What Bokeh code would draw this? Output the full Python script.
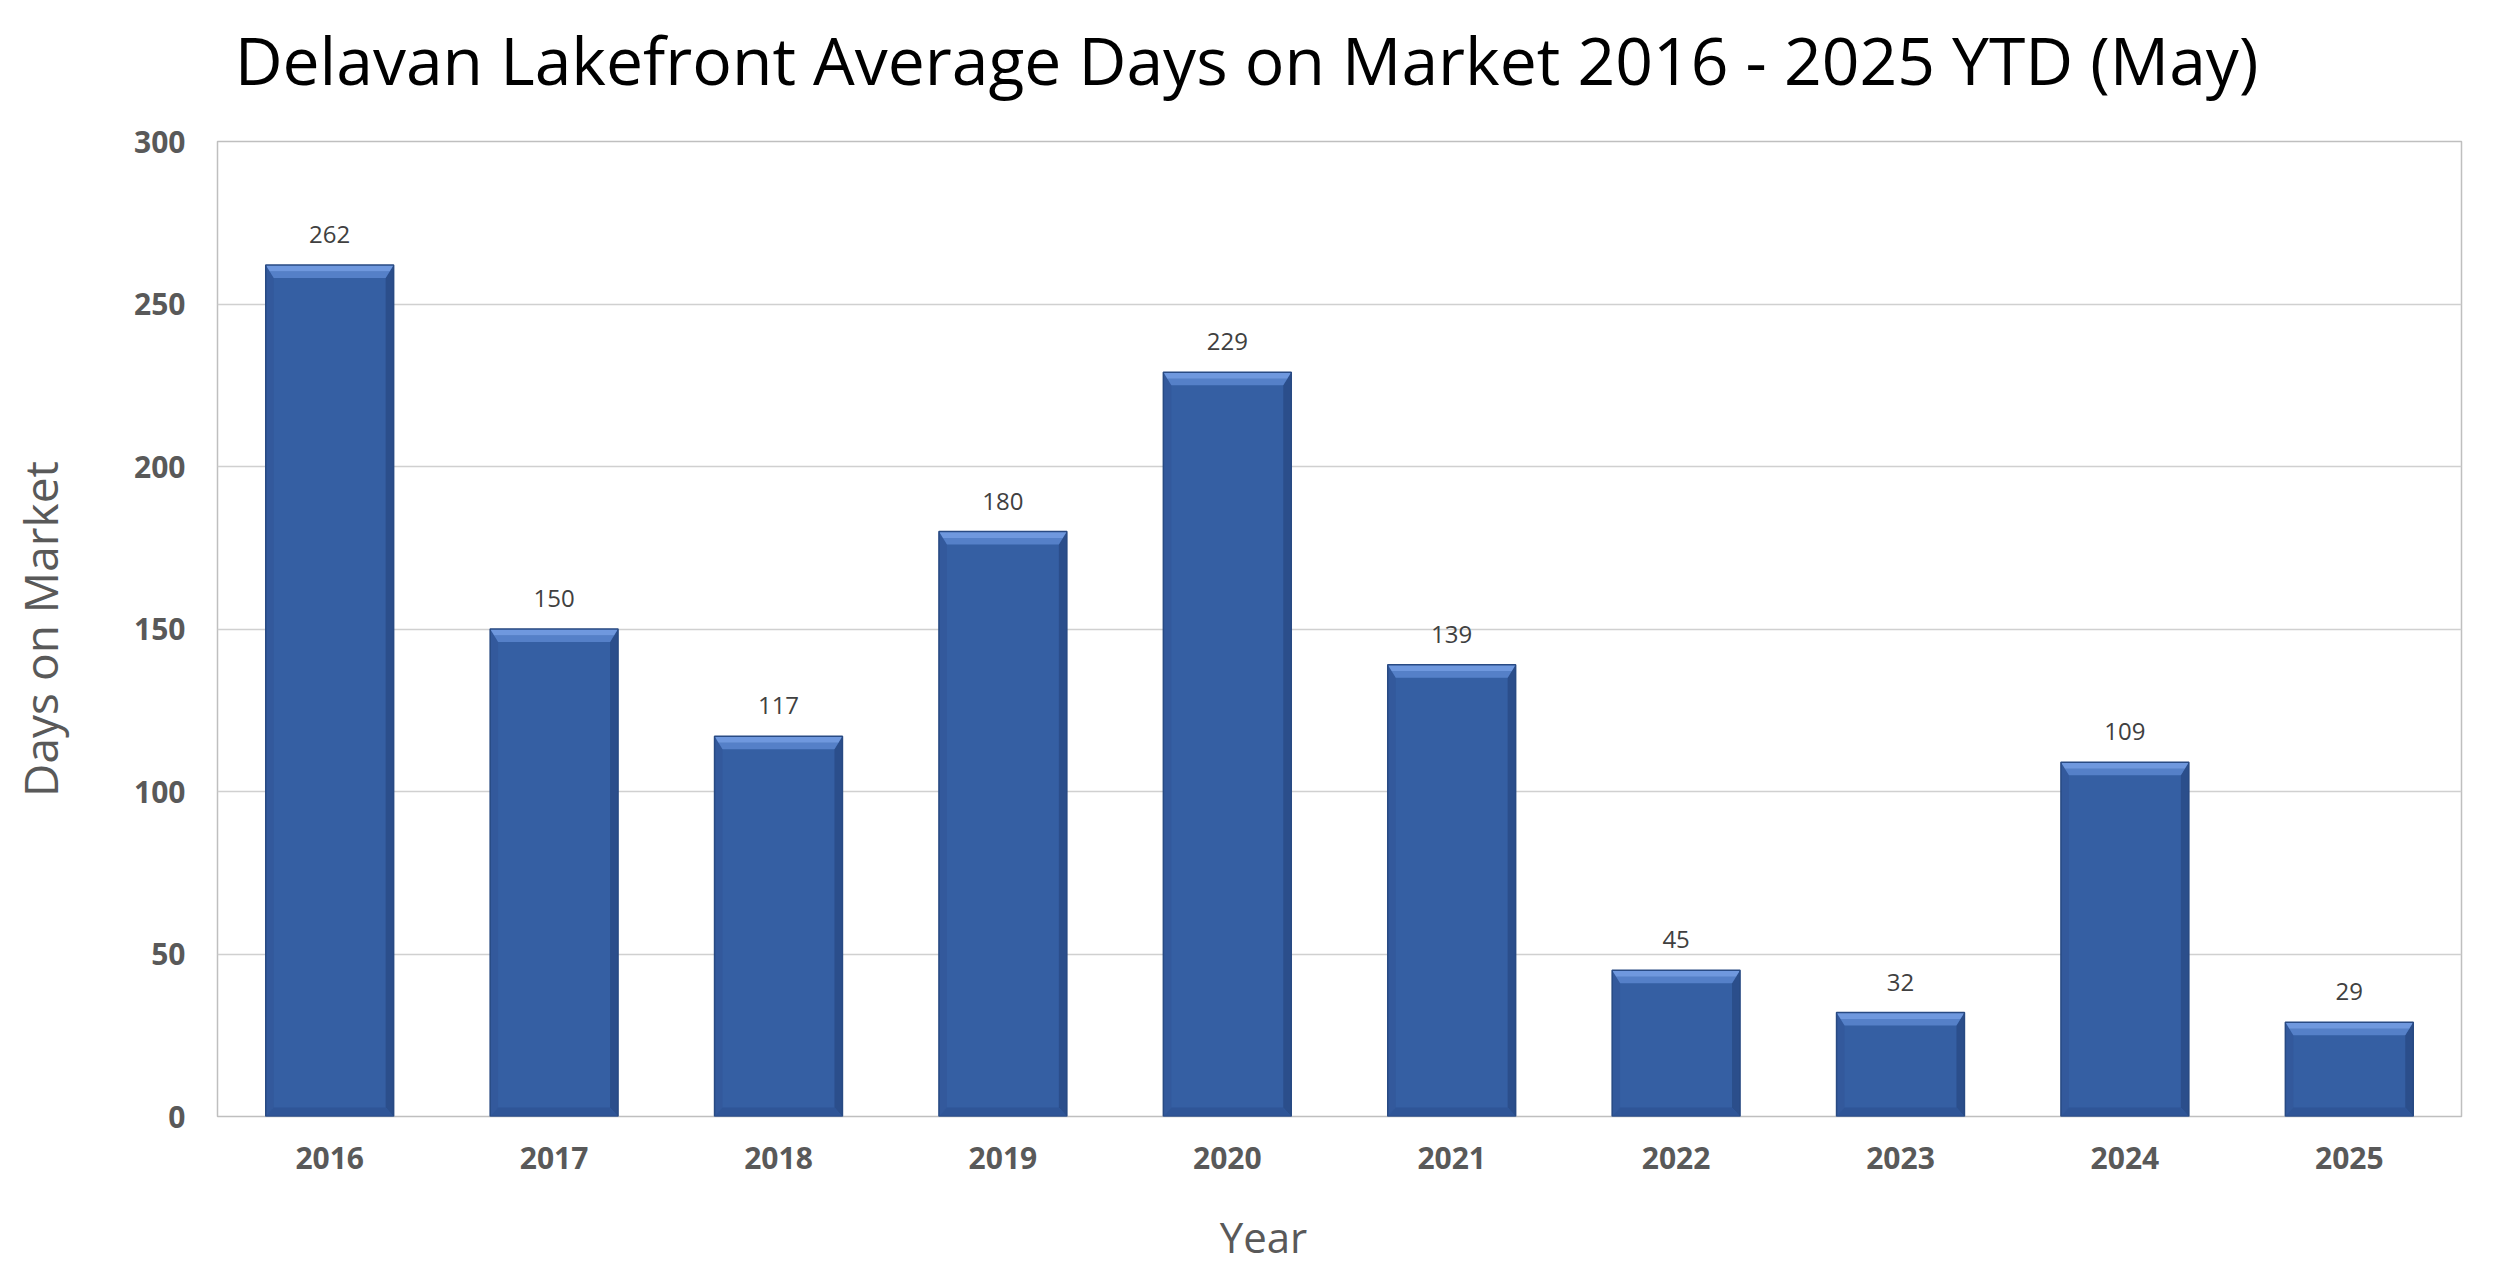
from bokeh.plotting import figure
from bokeh.models import ColumnDataSource, FixedTicker, LabelSet, LinearAxis, Range1d
from bokeh.core.properties import value
from bokeh.embed import file_html
from bokeh.resources import INLINE

# ---- data ----
years = ["2016", "2017", "2018", "2019", "2020", "2021", "2022", "2023", "2024", "2025"]
days = [262, 150, 117, 180, 229, 139, 45, 32, 109, 29]
y_ticks = [0, 50, 100, 150, 200, 250, 300]
TITLE = "Delavan Lakefront Average Days on Market 2016 - 2025 YTD (May)"
X_TITLE = "Year"
Y_TITLE = "Days on Market"

# ---- layout constants ----
W, H = 2484, 1267
FL, FR, FT, FB = 217, 23, 141, 151   # frame borders
frame_w = W - FL - FR
frame_h = H - FT - FB
bar_w = 0.57
YMAX = 300
px_x = len(years) / frame_w      # data units per px (x)
px_y = YMAX / frame_h            # data units per px (y)
dxs = 8 * px_x     # side bevel width
dyt = 13 * px_y    # top bevel height
dyb = 9 * px_y     # bottom bevel height

xs = list(range(len(years)))
src = ColumnDataSource(dict(x=xs, top=days, lab=[str(d) for d in days]))

p = figure(width=W, height=H, output_backend="svg", toolbar_location=None,
           x_range=Range1d(-0.5, len(years) - 0.5), y_range=Range1d(0, YMAX),
           min_border_left=FL, min_border_right=FR, min_border_top=FT, min_border_bottom=FB)
p.title = None
p.background_fill_color = "white"
p.border_fill_color = "white"
p.outline_line_color = "#bfbfbf"
p.outline_line_width = 1.5

# bars
p.vbar(x="x", top="top", width=bar_w, bottom=0, source=src,
       fill_color="#355fa3", line_color=None)

# bevel facets derived from data
top_o, top_i, right_f, left_f, bot_f = ([], []), ([], []), ([], []), ([], []), ([], [])
for i, v in zip(xs, days):
    L, R = i - bar_w / 2, i + bar_w / 2
    top_o[0].append([L, R, R - dxs / 2, L + dxs / 2]); top_o[1].append([v, v, v - dyt / 2, v - dyt / 2])
    top_i[0].append([L + dxs / 2, R - dxs / 2, R - dxs, L + dxs]); top_i[1].append([v - dyt / 2, v - dyt / 2, v - dyt, v - dyt])
    right_f[0].append([R, R, R - dxs, R - dxs]); right_f[1].append([v, 0, dyb, v - dyt])
    left_f[0].append([L, L, L + dxs, L + dxs]); left_f[1].append([v, 0, dyb, v - dyt])
    bot_f[0].append([L, R, R - dxs, L + dxs]); bot_f[1].append([0, 0, dyb, dyb])

p.patches(left_f[0], left_f[1], fill_color="#33599c", line_color=None)
p.patches(right_f[0], right_f[1], fill_color="#2b4e8b", line_color=None)
p.patches(bot_f[0], bot_f[1], fill_color="#2f5597", line_color=None)
p.patches(top_i[0], top_i[1], fill_color="#5580c8", line_color=None)
p.patches(top_o[0], top_o[1], fill_color="#6f98de", line_color=None)
p.vbar(x="x", top="top", width=bar_w, bottom=0, source=src,
       fill_color=None, line_color="#284a83", line_width=1.5)

# data labels
labels = LabelSet(x="x", y="top", text="lab", source=src, text_align="center",
                  text_baseline="alphabetic", y_offset=22, text_font=value("Open Sans"),
                  text_font_size="24px", text_color="#404040")
p.add_layout(labels)

# main axes
p.xaxis.ticker = FixedTicker(ticks=xs)
p.xaxis.major_label_overrides = {i: y for i, y in zip(xs, years)}
p.yaxis.ticker = FixedTicker(ticks=y_ticks)
for ax in (p.xaxis[0], p.yaxis[0]):
    ax.axis_line_color = None
    ax.major_tick_line_color = None
    ax.minor_tick_line_color = None
    ax.major_label_text_font = "Open Sans"
    ax.major_label_text_font_style = "bold"
    ax.major_label_text_font_size = "30px"
    ax.major_label_text_color = "#595959"
p.yaxis.axis_label = Y_TITLE
p.yaxis.axis_label_text_font = "Open Sans"
p.yaxis.axis_label_text_font_style = "normal"
p.yaxis.axis_label_text_font_size = "46px"
p.yaxis.axis_label_text_color = "#595959"
p.xaxis.major_label_standoff = 24
p.yaxis.major_label_standoff = 26
p.yaxis.axis_label_standoff = 60


def text_axis(label, x_px, size, color, standoff, style="normal"):
    """An axis carrying a single text label at a given pixel offset from the frame's left edge."""
    xv = round(-0.5 + x_px * px_x, 4)
    ax = LinearAxis(ticker=FixedTicker(ticks=[xv]), major_label_overrides={xv: label})
    ax.axis_line_color = None
    ax.major_tick_line_color = None
    ax.minor_tick_line_color = None
    ax.major_label_text_font = "Open Sans"
    ax.major_label_text_font_style = style
    ax.major_label_text_font_size = size
    ax.major_label_text_color = color
    ax.major_label_standoff = standoff
    return ax


# x-axis title, placed left of centre as in the original
p.add_layout(text_axis(X_TITLE, 1046, "42px", "#595959", 30), "below")
# chart title
p.add_layout(text_axis(TITLE, 1029, "66px", "#000000", 32), "above")

p.xgrid.grid_line_color = None
p.ygrid.grid_line_color = "#d0d0d0"
p.ygrid.grid_line_width = 1.5

open("out.html", "w").write(file_html(p, INLINE))
